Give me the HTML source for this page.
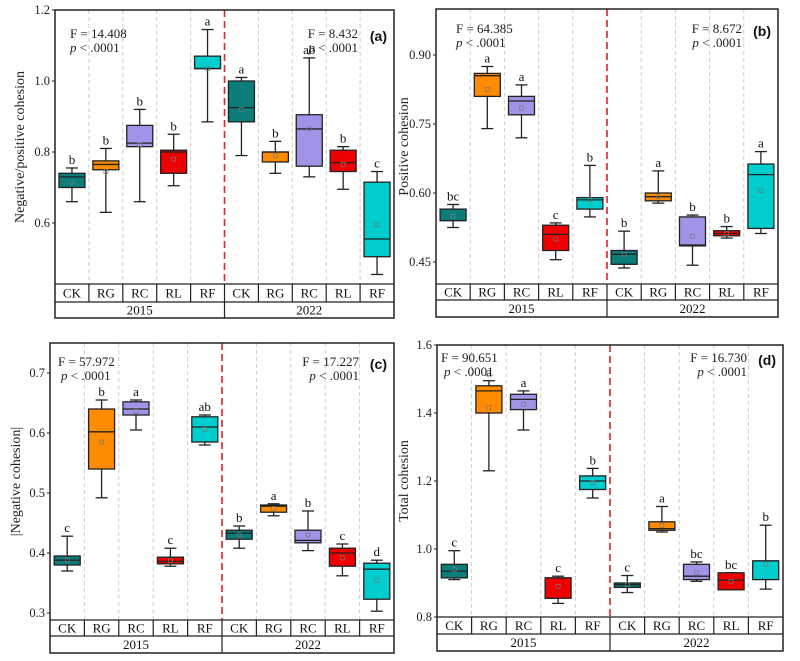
<!DOCTYPE html>
<html><head><meta charset="utf-8"><style>
html,body{margin:0;padding:0;background:#fff;}
svg{display:block;}
</style></head><body>
<svg id="s" width="800" height="661" xmlns="http://www.w3.org/2000/svg" font-family="Liberation Serif, serif"></svg>
<script>
const S=document.getElementById('s');
let h='';
const cols=['#0b7d7b','#ff8c00','#a393e8','#ee0000','#00cdcd'];
const cats=['CK','RG','RC','RL','RF'];
function panel(p){
  const {L,R,T,B,C1,C2,ticks,v2y,data,ylab,lab,F1,F2,tl}=p;
  const cw=(R-L)/10;
  // grid
  for(let i=1;i<10;i++){if(i==5)continue;const x=L+i*cw;h+=`<line x1="${x}" y1="${T}" x2="${x}" y2="${B}" stroke="#ccc" stroke-dasharray="4,3" stroke-width="1"/>`;}
  const mx=L+5*cw;
  h+=`<line x1="${mx}" y1="${T}" x2="${mx}" y2="${B}" stroke="#e0202a" stroke-dasharray="7,4" stroke-width="1.6"/>`;
  data.forEach((d,i)=>{
    const cx=L+(i+0.5)*cw, bw=26, c=cols[i%5];
    const [wl,wh,bl,bh,md,mn,lt]=d;
    h+=`<line x1="${cx}" y1="${v2y(wl)}" x2="${cx}" y2="${v2y(wh)}" stroke="#222" stroke-width="1.3"/>`;
    h+=`<line x1="${cx-6}" y1="${v2y(wl)}" x2="${cx+6}" y2="${v2y(wl)}" stroke="#222" stroke-width="1.3"/>`;
    h+=`<line x1="${cx-6}" y1="${v2y(wh)}" x2="${cx+6}" y2="${v2y(wh)}" stroke="#222" stroke-width="1.3"/>`;
    const y1=v2y(bh),y2=v2y(bl);
    h+=`<rect x="${cx-bw/2}" y="${y1}" width="${bw}" height="${Math.max(1,y2-y1)}" fill="${c}" stroke="#222" stroke-width="1.3"/>`;
    h+=`<line x1="${cx-bw/2}" y1="${v2y(md)}" x2="${cx+bw/2}" y2="${v2y(md)}" stroke="#222" stroke-width="1.3"/>`;
    h+=`<rect x="${cx-2}" y="${v2y(mn)-2}" width="4" height="4" fill="none" stroke="#777" stroke-width="0.7"/>`;
    h+=`<text x="${cx}" y="${v2y(wh)-4}" font-size="13" text-anchor="middle" fill="#111">${lt}</text>`;
  });
  // frame
  h+=`<rect x="${L}" y="${T}" width="${R-L}" height="${C2-T}" fill="none" stroke="#222" stroke-width="1.5"/>`;
  h+=`<line x1="${L}" y1="${B}" x2="${R}" y2="${B}" stroke="#222" stroke-width="1.3"/>`;
  h+=`<line x1="${L}" y1="${C1}" x2="${R}" y2="${C1}" stroke="#222" stroke-width="1.3"/>`;
  for(let i=1;i<10;i++){const x=L+i*cw;h+=`<line x1="${x}" y1="${B}" x2="${x}" y2="${C1}" stroke="#222" stroke-width="1.2"/>`;
  }
  h+=`<line x1="${mx}" y1="${C1}" x2="${mx}" y2="${C2}" stroke="#222" stroke-width="1.2"/>`;
  for(let i=0;i<10;i++){h+=`<text x="${L+(i+0.5)*cw}" y="${(B+C1)/2+4.5}" font-size="13" text-anchor="middle" fill="#111">${cats[i%5]}</text>`;}
  h+=`<text x="${L+2.5*cw}" y="${(C1+C2)/2+4.5}" font-size="13" text-anchor="middle" fill="#111">2015</text>`;
  h+=`<text x="${L+7.5*cw}" y="${(C1+C2)/2+4.5}" font-size="13" text-anchor="middle" fill="#111">2022</text>`;
  ticks.forEach(t=>{const y=v2y(t);h+=`<line x1="${L-3}" y1="${y}" x2="${L}" y2="${y}" stroke="#222"/><text x="${L-5}" y="${y+4}" font-size="12.5" text-anchor="end" fill="#222">${tl(t)}</text>`;});
  const ym=(T+B)/2;
  h+=`<text transform="translate(${p.yx},${ym}) rotate(-90)" font-size="14" text-anchor="middle" fill="#222">${ylab}</text>`;
  h+=`<text x="${F1[0]}" y="${F1[1]}" font-size="13" fill="#222">F = ${F1[2]}</text>`;
  h+=`<text x="${F1[0]+F1[3]}" y="${F1[1]+14}" font-size="13" fill="#222"><tspan font-style="italic">p</tspan> &lt; .0001</text>`;
  h+=`<text x="${F2[0]}" y="${F2[1]}" font-size="13" text-anchor="end" fill="#222">F = ${F2[2]}</text>`;
  h+=`<text x="${F2[0]}" y="${F2[1]+14}" font-size="13" text-anchor="end" fill="#222"><tspan font-style="italic">p</tspan> &lt; .0001</text>`;
  h+=`<text x="${R-7}" y="${F2[1]+3}" font-size="14" font-weight="bold" font-family="Liberation Sans, sans-serif" text-anchor="end" fill="#111">${lab}</text>`;
}
panel({L:55,R:394,T:10,B:284,C1:302,C2:318,yx:24,ticks:[0.6,0.8,1.0,1.2],tl:t=>t.toFixed(1),
 v2y:v=>10+(1.2-v)*355,ylab:'Negative/positive cohesion',lab:'(a)',F1:[70,38,'14.408',0],F2:[358,38,'8.432'],
 data:[[0.66,0.755,0.70,0.74,0.73,0.715,'b'],[0.63,0.81,0.75,0.775,0.765,0.745,'b'],[0.66,0.92,0.815,0.875,0.825,0.82,'b'],[0.705,0.85,0.74,0.805,0.80,0.78,'b'],[0.885,1.145,1.035,1.07,1.035,1.035,'a'],
 [0.79,1.01,0.885,1.0,0.925,0.92,'a'],[0.74,0.83,0.772,0.80,0.80,0.79,'b'],[0.73,1.065,0.76,0.905,0.865,0.865,'ab'],[0.695,0.815,0.745,0.805,0.77,0.765,'b'],[0.455,0.745,0.505,0.715,0.555,0.595,'c']]});
panel({L:436,R:778,T:9,B:284,C1:300,C2:317,yx:408,ticks:[0.45,0.60,0.75,0.90],tl:t=>t.toFixed(2),
 v2y:v=>55+(0.90-v)*460,ylab:'Positive cohesion',lab:'(b)',F1:[456,33,'64.385',0],F2:[742,33,'8.672'],
 data:[[0.525,0.575,0.54,0.565,0.54,0.55,'bc'],[0.74,0.875,0.81,0.86,0.855,0.825,'a'],[0.72,0.835,0.77,0.81,0.80,0.785,'a'],[0.455,0.535,0.475,0.53,0.51,0.50,'c'],[0.548,0.66,0.565,0.59,0.585,0.585,'b'],
 [0.437,0.517,0.445,0.475,0.467,0.467,'b'],[0.578,0.648,0.583,0.60,0.592,0.592,'a'],[0.443,0.552,0.485,0.548,0.487,0.505,'b'],[0.502,0.527,0.507,0.518,0.512,0.512,'b'],[0.512,0.69,0.523,0.663,0.64,0.605,'a']]});
panel({L:50,R:394,T:343,B:620,C1:636,C2:653,yx:20,ticks:[0.3,0.4,0.5,0.6,0.7],tl:t=>t.toFixed(1),
 v2y:v=>373+(0.7-v)*600,ylab:'|Negative cohesion|',lab:'(c)',F1:[58,366,'57.972',3],F2:[359,366,'17.227'],
 data:[[0.37,0.428,0.38,0.395,0.388,0.388,'c'],[0.492,0.655,0.54,0.64,0.602,0.585,'b'],[0.605,0.655,0.63,0.652,0.64,0.636,'a'],[0.378,0.408,0.382,0.393,0.386,0.387,'c'],[0.58,0.63,0.585,0.627,0.61,0.606,'ab'],
 [0.408,0.445,0.423,0.438,0.433,0.43,'b'],[0.462,0.482,0.468,0.48,0.478,0.474,'a'],[0.404,0.47,0.417,0.438,0.421,0.43,'b'],[0.362,0.415,0.378,0.408,0.40,0.392,'c'],[0.303,0.388,0.323,0.383,0.373,0.354,'d']]});
panel({L:437,R:783,T:345,B:617,C1:634,C2:651,yx:408,ticks:[0.8,1.0,1.2,1.4,1.6],tl:t=>t.toFixed(1),
 v2y:v=>345+(1.6-v)*340,ylab:'Total cohesion',lab:'(d)',F1:[441,362,'90.651',3],F2:[747,362,'16.730'],
 data:[[0.91,0.995,0.915,0.955,0.935,0.94,'c'],[1.23,1.495,1.40,1.48,1.465,1.415,'a'],[1.35,1.465,1.41,1.455,1.44,1.425,'a'],[0.84,0.92,0.855,0.915,0.915,0.89,'c'],[1.15,1.237,1.175,1.215,1.20,1.195,'b'],
 [0.872,0.922,0.887,0.90,0.895,0.895,'c'],[1.05,1.125,1.055,1.08,1.06,1.07,'a'],[0.905,0.962,0.91,0.955,0.92,0.93,'bc'],[0.88,0.93,0.88,0.93,0.908,0.905,'bc'],[0.882,1.07,0.91,0.965,0.965,0.955,'b']]});
S.innerHTML=h;
</script>
</body></html>
